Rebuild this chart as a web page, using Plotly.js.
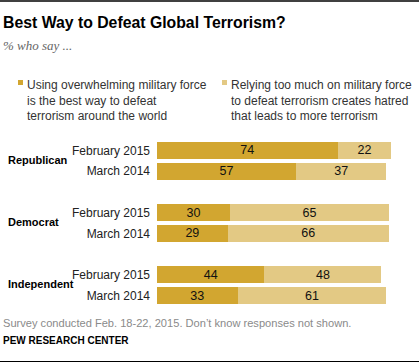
<!DOCTYPE html>
<html>
<head>
<meta charset="utf-8">
<script src="https://cdn.plot.ly/plotly-3.0.1.min.js"></script>
<style>
html,body{margin:0;padding:0;background:#fff;}
#chart{width:419px;height:363px;}
</style>
</head>
<body>
<div id="chart"></div>
<script>
const groups = ['Republican', 'Democrat', 'Independent'];
const waves = ['February 2015', 'March 2014'];
// values in order: group x wave
const military = [74, 57, 30, 29, 44, 33];
const hatred = [22, 37, 65, 66, 48, 61];
const seriesNames = [
  'Using overwhelming military force<br>is the best way to defeat<br>terrorism around the world',
  'Relying too much on military force<br>to defeat terrorism creates hatred<br>that leads to more terrorism'
];
const titleText = 'Best Way to Defeat Global Terrorism?';
const subtitleText = '% who say ...';
const noteText = 'Survey conducted Feb. 18-22, 2015. Don\u2019t know responses not shown.';
const sourceText = 'PEW RESEARCH CENTER';

const DARK = '#D2A630';
const LIGHT = '#E3C984';
const FONT = 'Liberation Sans, Arial, sans-serif';

// build category rows (with spacer rows between groups)
const rowIds = [], rowText = [], barIds = [];
groups.forEach((g, gi) => {
  if (gi > 0) { rowIds.push('spacer' + gi); rowText.push(''); }
  waves.forEach(w => { rowIds.push(g + '|' + w); rowText.push(w); barIds.push(g + '|' + w); });
});

const W = 419, H = 363;
const M = {l: 157, r: 18, t: 140, b: 57};
const pw = W - M.l - M.r, ph = H - M.t - M.b;
const px = x => (x - M.l) / pw;          // pixel -> paper x
const py = y => 1 - (y - M.t) / ph;      // pixel -> paper y

const barText = {family: FONT, size: 12.5, color: '#111'};
const traces = [
  {type: 'bar', orientation: 'h', name: seriesNames[0], x: military, y: barIds,
   marker: {color: DARK}, text: military.map(String), textposition: 'inside',
   insidetextanchor: 'middle', textangle: 0, constraintext: 'none',
   textfont: barText, insidetextfont: barText,
   hoverinfo: 'skip', cliponaxis: false},
  {type: 'bar', orientation: 'h', name: seriesNames[1], x: hatred, y: barIds,
   marker: {color: LIGHT}, text: hatred.map(String), textposition: 'inside',
   insidetextanchor: 'middle', textangle: 0, constraintext: 'none',
   textfont: barText, insidetextfont: barText,
   hoverinfo: 'skip', cliponaxis: false}
];

const annotations = [
  {text: '<b>' + titleText + '</b>', xref: 'paper', yref: 'paper', x: px(1), y: py(22),
   xanchor: 'left', yanchor: 'middle', showarrow: false,
   font: {family: FONT, size: 15.8, color: '#000'}},
  {text: '<i>' + subtitleText + '</i>', xref: 'paper', yref: 'paper', x: px(1), y: py(45),
   xanchor: 'left', yanchor: 'middle', showarrow: false,
   font: {family: 'Liberation Serif, Georgia, serif', size: 13, color: '#666'}},
  {text: seriesNames[0], xref: 'paper', yref: 'paper', x: px(25), y: py(76),
   xanchor: 'left', yanchor: 'top', align: 'left', showarrow: false,
   font: {family: FONT, size: 12, color: '#333'}},
  {text: seriesNames[1], xref: 'paper', yref: 'paper', x: px(229), y: py(76),
   xanchor: 'left', yanchor: 'top', align: 'left', showarrow: false,
   font: {family: FONT, size: 12, color: '#333'}},
  {text: noteText, xref: 'paper', yref: 'paper', x: px(1), y: py(322.5),
   xanchor: 'left', yanchor: 'middle', showarrow: false,
   font: {family: FONT, size: 11.1, color: '#8a8a8a'}},
  {text: '<b>' + sourceText + '</b>', xref: 'paper', yref: 'paper', x: px(1), y: py(340.5),
   xanchor: 'left', yanchor: 'middle', showarrow: false,
   font: {family: FONT, size: 10, color: '#000'}}
];

// group labels, placed between the two waves of each group
groups.forEach((g, gi) => {
  const i0 = rowIds.indexOf(g + '|' + waves[0]);
  annotations.push({text: '<b>' + g + '</b>', xref: 'paper', yref: 'y',
    x: px(6), y: i0 + 0.45, xanchor: 'left', yanchor: 'middle', showarrow: false,
    font: {family: FONT, size: 11, color: '#000'}});
});

const shapes = [
  {type: 'line', xref: 'paper', yref: 'paper', x0: px(0), x1: px(419), y0: py(1), y1: py(1),
   line: {color: '#000', width: 1.5}},
  {type: 'line', xref: 'paper', yref: 'paper', x0: px(0), x1: px(419), y0: py(361.5), y1: py(361.5),
   line: {color: '#000', width: 1.2}},
  {type: 'rect', xref: 'paper', yref: 'paper', x0: px(18), x1: px(23), y0: py(80), y1: py(85),
   fillcolor: DARK, line: {width: 0}},
  {type: 'rect', xref: 'paper', yref: 'paper', x0: px(222), x1: px(227), y0: py(80), y1: py(85),
   fillcolor: LIGHT, line: {width: 0}}
];

const layout = {
  width: W, height: H,
  margin: M,
  paper_bgcolor: '#fff', plot_bgcolor: '#fff',
  barmode: 'stack', bargap: 0.18,
  showlegend: false,
  uniformtext: {mode: false},
  xaxis: {range: [0, 100], visible: false, fixedrange: true},
  yaxis: {type: 'category', categoryarray: rowIds, categoryorder: 'array',
    autorange: 'reversed', tickvals: rowIds, ticktext: rowText,
    showgrid: false, zeroline: false, showline: false, ticks: '',
    ticklabelstandoff: 6,
    tickfont: {family: FONT, size: 12, color: '#222'}, fixedrange: true},
  annotations: annotations,
  shapes: shapes,
  font: {family: FONT}
};

Plotly.newPlot('chart', traces, layout, {staticPlot: true, displayModeBar: false});
</script>
</body>
</html>
